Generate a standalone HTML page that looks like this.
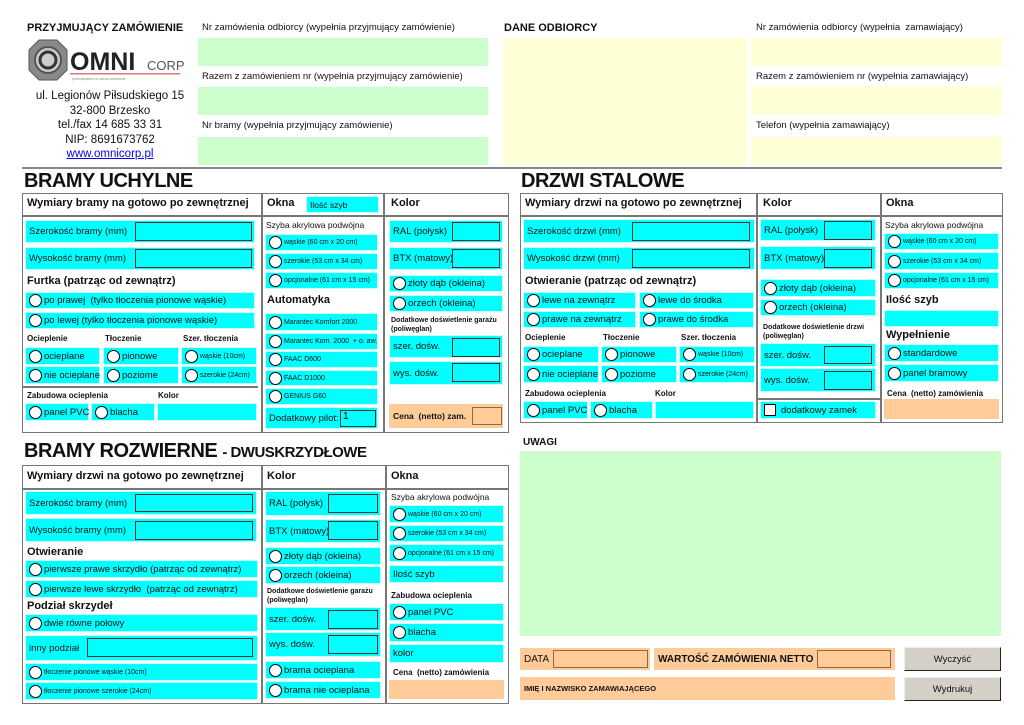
<!DOCTYPE html>
<html><head><meta charset="utf-8">
<style>
*{margin:0;padding:0;box-sizing:border-box}
body{width:1024px;height:725px;background:#fff;position:relative;overflow:hidden;font-family:"Liberation Sans","DejaVu Sans",sans-serif;color:#111}
.a{position:absolute;white-space:nowrap}
.c{position:absolute;background:#00ffff;display:flex;align-items:center;font-size:9.5px;white-space:nowrap;padding-left:3px;border:1px solid #c8ffff}
.c i{display:inline-block;width:13px;height:13px;border:1px solid #000;border-radius:50%;background:#fff;margin-right:2px;flex:none}
.s{font-size:7px}
.g{position:absolute;background:#ccffcc}
.y{position:absolute;background:#ffffd6}
.p{position:absolute;background:#ffcc99;display:flex;align-items:center;font-size:10px;font-weight:bold;padding-left:4px;white-space:nowrap}
.in{position:absolute;border:1.3px solid #333;background:#0ff}
.inp{position:absolute;border:1px solid #8a6a4a;background:#ffcc99}
.b{font-weight:bold}
.h{position:absolute;font-weight:bold;font-size:11px;white-space:nowrap}
.t{position:absolute;font-weight:bold;font-size:20px;letter-spacing:-0.5px;white-space:nowrap}
.box{position:absolute;border:1.5px solid #777}
.vl{position:absolute;width:1.5px;background:#777}
.hl{position:absolute;height:1.5px;background:#777}
.lab{position:absolute;font-size:9.5px;white-space:nowrap}
.sb{position:absolute;font-size:7px;font-weight:bold;line-height:9px}
.btn{position:absolute;background:#d4d0c8;border:1.5px solid #222;border-top-color:#eee;border-left-color:#eee;font-size:9.5px;display:flex;align-items:center;justify-content:center}
</style></head><body>

<!-- HEADER -->
<div class="a b" style="left:27px;top:22px;font-size:11px">PRZYJMUJĄCY ZAMÓWIENIE</div>
<svg class="a" style="left:27px;top:38px" width="166" height="45" viewBox="0 0 166 45">
<polygon points="12,2 30,2 40,12 40,32 30,42 12,42 2,32 2,12" fill="#888" stroke="#555"/>
<circle cx="21" cy="22" r="13" fill="#ccc" stroke="#555" stroke-width="2"/>
<circle cx="21" cy="22" r="8" fill="none" stroke="#333" stroke-width="3"/>
<text x="43" y="32" font-family="Liberation Sans" font-weight="bold" font-size="25" fill="#222">OMNI</text>
<text x="120" y="32" font-family="Liberation Sans" font-size="13" fill="#555">CORP</text>
<rect x="43" y="35" width="110" height="1.5" fill="#d77"/>
<text x="45" y="42" font-size="3.5" fill="#888">profesjonalizm w sztuce tworzenia</text>
</svg>
<div class="a" style="left:20px;top:89px;width:180px;text-align:center;font-size:11.5px;line-height:14.5px;white-space:normal">ul. Legionów Piłsudskiego 15<br>32-800 Brzesko<br>tel./fax 14 685 33 31<br>NIP: 8691673762<br><span style="color:#00e;text-decoration:underline">www.omnicorp.pl</span></div>

<div class="lab" style="left:202px;top:22px">Nr zamówienia odbiorcy (wypełnia przyjmujący zamówienie)</div>
<div class="g" style="left:198px;top:38px;width:290px;height:28px"></div>
<div class="lab" style="left:202px;top:71px">Razem z zamówieniem nr (wypełnia przyjmujący zamówienie)</div>
<div class="g" style="left:198px;top:87px;width:290px;height:28px"></div>
<div class="lab" style="left:202px;top:120px">Nr bramy (wypełnia przyjmujący zamówienie)</div>
<div class="g" style="left:198px;top:137px;width:290px;height:28px"></div>

<div class="a b" style="left:504px;top:22px;font-size:11px">DANE ODBIORCY</div>
<div class="y" style="left:503px;top:38px;width:244px;height:127px"></div>
<div class="lab" style="left:756px;top:22px">Nr zamówienia odbiorcy (wypełnia&nbsp; zamawiający)</div>
<div class="y" style="left:751px;top:38px;width:251px;height:28px"></div>
<div class="lab" style="left:756px;top:71px">Razem z zamówieniem nr (wypełnia zamawiający)</div>
<div class="y" style="left:751px;top:87px;width:251px;height:28px"></div>
<div class="lab" style="left:756px;top:120px">Telefon (wypełnia zamawiający)</div>
<div class="y" style="left:751px;top:137px;width:251px;height:28px"></div>
<div class="hl" style="left:22px;top:167px;width:980px;background:#888"></div>

<!-- BRAMY UCHYLNE -->
<div class="t" style="left:24px;top:170px">BRAMY UCHYLNE</div>
<div class="box" style="left:22px;top:193px;width:487px;height:240px"></div>
<div class="hl" style="left:22px;top:215px;width:487px"></div>
<div class="vl" style="left:261px;top:193px;height:240px"></div>
<div class="vl" style="left:383px;top:193px;height:240px"></div>
<div class="h" style="left:27px;top:197px">Wymiary bramy na gotowo po zewnętrznej</div>
<div class="h" style="left:267px;top:197px">Okna</div>
<div class="c" style="left:306px;top:196px;width:73px;height:17px;font-size:8.5px">Ilość szyb</div>
<div class="h" style="left:391px;top:197px">Kolor</div>

<div class="c" style="left:25px;top:220px;width:230px;height:23px">Szerokość bramy (mm)</div>
<div class="in" style="left:135px;top:222px;width:117px;height:19px"></div>
<div class="c" style="left:25px;top:247px;width:230px;height:23px">Wysokość bramy (mm)</div>
<div class="in" style="left:135px;top:249px;width:117px;height:19px"></div>
<div class="h" style="left:27px;top:275px">Furtka (patrząc od zewnątrz)</div>
<div class="c" style="left:25px;top:292px;width:230px;height:17px"><i></i>po prawej&nbsp; (tylko tłoczenia pionowe wąskie)</div>
<div class="c" style="left:25px;top:312px;width:230px;height:17px"><i></i>po lewej (tylko tłoczenia pionowe wąskie)</div>
<div class="sb" style="left:27px;top:334px;font-size:8px">Ocieplenie</div>
<div class="sb" style="left:105px;top:334px;font-size:8px">Tłoczenie</div>
<div class="sb" style="left:183px;top:334px;font-size:8px">Szer. tłoczenia</div>
<div class="c" style="left:25px;top:347px;width:75px;height:18px"><i></i>ocieplane</div>
<div class="c" style="left:103px;top:347px;width:76px;height:18px"><i></i>pionowe</div>
<div class="c" style="left:181px;top:347px;width:76px;height:18px"><i></i><span class="s">wąskie (10cm)</span></div>
<div class="c" style="left:25px;top:366px;width:75px;height:18px"><i></i>nie ocieplane</div>
<div class="c" style="left:103px;top:366px;width:76px;height:18px"><i></i>poziome</div>
<div class="c" style="left:181px;top:366px;width:76px;height:18px"><i></i><span class="s">szerokie (24cm)</span></div>
<div class="hl" style="left:22px;top:386px;width:236px"></div>
<div class="sb" style="left:27px;top:391px;font-size:8px">Zabudowa ocieplenia</div>
<div class="sb" style="left:158px;top:391px;font-size:8px">Kolor</div>
<div class="c" style="left:25px;top:403px;width:64px;height:18px"><i></i>panel PVC</div>
<div class="c" style="left:91px;top:403px;width:64px;height:18px"><i></i>blacha</div>
<div class="c" style="left:157px;top:403px;width:100px;height:18px"></div>

<div class="lab" style="left:266px;top:220px;font-size:8.5px">Szyba akrylowa podwójna</div>
<div class="c" style="left:265px;top:234px;width:113px;height:17px"><i></i><span class="s">wąskie (60 cm x 20 cm)</span></div>
<div class="c" style="left:265px;top:253px;width:113px;height:17px"><i></i><span class="s">szerokie (53 cm x 34 cm)</span></div>
<div class="c" style="left:265px;top:272px;width:113px;height:17px"><i></i><span class="s">opcjonalne (61 cm x 15 cm)</span></div>
<div class="h" style="left:267px;top:294px">Automatyka</div>
<div class="c" style="left:265px;top:313px;width:113px;height:18px"><i></i><span class="s">Marantec Komfort 2000</span></div>
<div class="c" style="left:265px;top:333px;width:113px;height:17px"><i></i><span class="s">Marantec Kom. 2000&nbsp; + o. aw.</span></div>
<div class="c" style="left:265px;top:351px;width:113px;height:17px"><i></i><span class="s">FAAC D600</span></div>
<div class="c" style="left:265px;top:370px;width:113px;height:16px"><i></i><span class="s">FAAC D1000</span></div>
<div class="c" style="left:265px;top:388px;width:113px;height:17px"><i></i><span class="s">GENIUS G60</span></div>
<div class="c" style="left:265px;top:407px;width:113px;height:22px">Dodatkowy pilot:</div>
<div class="in" style="left:340px;top:410px;width:36px;height:17px;font-size:10px;padding-left:2px">1</div>

<div class="c" style="left:389px;top:220px;width:114px;height:23px">RAL (połysk)</div>
<div class="in" style="left:452px;top:222px;width:48px;height:19px"></div>
<div class="c" style="left:389px;top:247px;width:114px;height:23px">BTX (matowy)</div>
<div class="in" style="left:452px;top:249px;width:48px;height:19px"></div>
<div class="c" style="left:389px;top:275px;width:114px;height:17px"><i></i>złoty dąb (okleina)</div>
<div class="c" style="left:389px;top:295px;width:114px;height:17px"><i></i>orzech (okleina)</div>
<div class="sb" style="left:391px;top:316px">Dodatkowe doświetlenie garażu<br>(poliwęglan)</div>
<div class="c" style="left:389px;top:335px;width:114px;height:23px">szer. dośw.</div>
<div class="in" style="left:452px;top:338px;width:48px;height:19px"></div>
<div class="c" style="left:389px;top:361px;width:114px;height:24px">wys. dośw.</div>
<div class="in" style="left:452px;top:363px;width:48px;height:19px"></div>
<div class="p" style="left:389px;top:404px;width:114px;height:24px;font-size:8.5px">Cena&nbsp; (netto) zam.</div>
<div class="inp" style="left:472px;top:407px;width:30px;height:18px"></div>

<!-- DRZWI STALOWE -->
<div class="t" style="left:521px;top:170px">DRZWI STALOWE</div>
<div class="box" style="left:520px;top:193px;width:483px;height:230px"></div>
<div class="hl" style="left:520px;top:215px;width:483px"></div>
<div class="vl" style="left:756px;top:193px;height:230px"></div>
<div class="vl" style="left:880px;top:193px;height:230px"></div>
<div class="h" style="left:525px;top:197px">Wymiary drzwi na gotowo po zewnętrznej</div>
<div class="h" style="left:763px;top:197px">Kolor</div>
<div class="h" style="left:886px;top:197px">Okna</div>

<div class="c" style="left:523px;top:219px;width:232px;height:24px">Szerokość drzwi (mm)</div>
<div class="in" style="left:632px;top:222px;width:118px;height:19px"></div>
<div class="c" style="left:523px;top:247px;width:232px;height:23px">Wysokość drzwi (mm)</div>
<div class="in" style="left:632px;top:249px;width:118px;height:19px"></div>
<div class="h" style="left:525px;top:275px">Otwieranie (patrząc od zewnątrz)</div>
<div class="c" style="left:523px;top:292px;width:113px;height:17px"><i></i>lewe na zewnątrz</div>
<div class="c" style="left:639px;top:292px;width:115px;height:17px"><i></i>lewe do środka</div>
<div class="c" style="left:523px;top:311px;width:113px;height:17px"><i></i>prawe na zewnątrz</div>
<div class="c" style="left:639px;top:311px;width:115px;height:17px"><i></i>prawe do środka</div>
<div class="sb" style="left:525px;top:333px;font-size:8px">Ocieplenie</div>
<div class="sb" style="left:603px;top:333px;font-size:8px">Tłoczenie</div>
<div class="sb" style="left:681px;top:333px;font-size:8px">Szer. tłoczenia</div>
<div class="c" style="left:523px;top:346px;width:76px;height:17px"><i></i>ocieplane</div>
<div class="c" style="left:601px;top:346px;width:76px;height:17px"><i></i>pionowe</div>
<div class="c" style="left:679px;top:346px;width:76px;height:17px"><i></i><span class="s">wąskie (10cm)</span></div>
<div class="c" style="left:523px;top:365px;width:76px;height:18px"><i></i>nie ocieplane</div>
<div class="c" style="left:601px;top:365px;width:76px;height:18px"><i></i>poziome</div>
<div class="c" style="left:679px;top:365px;width:76px;height:18px"><i></i><span class="s">szerokie (24cm)</span></div>
<div class="sb" style="left:525px;top:389px;font-size:8px">Zabudowa ocieplenia</div>
<div class="sb" style="left:655px;top:389px;font-size:8px">Kolor</div>
<div class="c" style="left:523px;top:401px;width:65px;height:18px"><i></i>panel PVC</div>
<div class="c" style="left:590px;top:401px;width:63px;height:18px"><i></i>blacha</div>
<div class="c" style="left:655px;top:401px;width:99px;height:18px"></div>

<div class="c" style="left:760px;top:219px;width:116px;height:22px">RAL (połysk)</div>
<div class="in" style="left:824px;top:221px;width:48px;height:19px"></div>
<div class="c" style="left:760px;top:246px;width:116px;height:24px">BTX (matowy)</div>
<div class="in" style="left:824px;top:249px;width:48px;height:19px"></div>
<div class="c" style="left:760px;top:279px;width:116px;height:18px"><i></i>złoty dąb (okleina)</div>
<div class="c" style="left:760px;top:299px;width:116px;height:17px"><i></i>orzech (okleina)</div>
<div class="sb" style="left:763px;top:323px">Dodatkowe doświetlenie drzwi<br>(poliwęglan)</div>
<div class="c" style="left:760px;top:343px;width:116px;height:24px">szer. dośw.</div>
<div class="in" style="left:824px;top:346px;width:48px;height:18px"></div>
<div class="c" style="left:760px;top:368px;width:116px;height:24px">wys. dośw.</div>
<div class="in" style="left:824px;top:371px;width:48px;height:19px"></div>
<div class="hl" style="left:756px;top:398px;width:125px"></div>
<div class="c" style="left:760px;top:401px;width:116px;height:18px"><span style="display:inline-block;width:12px;height:12px;background:#fff;border:1px solid #000;margin-right:5px"></span>dodatkowy zamek</div>

<div class="lab" style="left:885px;top:220px;font-size:8.5px">Szyba akrylowa podwójna</div>
<div class="c" style="left:884px;top:233px;width:115px;height:17px"><i></i><span class="s">wąskie (60 cm x 20 cm)</span></div>
<div class="c" style="left:884px;top:252px;width:115px;height:18px"><i></i><span class="s">szerokie (53 cm x 34 cm)</span></div>
<div class="c" style="left:884px;top:272px;width:115px;height:17px"><i></i><span class="s">opcjonalne (61 cm x 15 cm)</span></div>
<div class="h" style="left:886px;top:294px">Ilość szyb</div>
<div class="c" style="left:884px;top:310px;width:115px;height:17px"></div>
<div class="h" style="left:886px;top:329px">Wypełnienie</div>
<div class="c" style="left:884px;top:344px;width:115px;height:18px"><i></i>standardowe</div>
<div class="c" style="left:884px;top:364px;width:115px;height:18px"><i></i>panel bramowy</div>
<div class="sb" style="left:887px;top:389px;font-size:8px">Cena&nbsp; (netto) zamówienia</div>
<div class="p" style="left:884px;top:399px;width:115px;height:20px"></div>

<!-- BRAMY ROZWIERNE -->
<div class="t" style="left:24px;top:440px">BRAMY ROZWIERNE <span style="font-size:15px">- DWUSKRZYDŁOWE</span></div>
<div class="box" style="left:22px;top:465px;width:487px;height:239px"></div>
<div class="hl" style="left:22px;top:488px;width:487px"></div>
<div class="vl" style="left:261px;top:465px;height:239px"></div>
<div class="vl" style="left:385px;top:465px;height:239px"></div>
<div class="h" style="left:27px;top:470px">Wymiary drzwi na gotowo po zewnętrznej</div>
<div class="h" style="left:267px;top:470px">Kolor</div>
<div class="h" style="left:391px;top:470px">Okna</div>

<div class="c" style="left:25px;top:491px;width:232px;height:24px">Szerokość bramy (mm)</div>
<div class="in" style="left:135px;top:494px;width:118px;height:18px"></div>
<div class="c" style="left:25px;top:518px;width:232px;height:24px">Wysokość bramy (mm)</div>
<div class="in" style="left:135px;top:521px;width:118px;height:19px"></div>
<div class="h" style="left:27px;top:546px">Otwieranie</div>
<div class="c" style="left:25px;top:560px;width:233px;height:18px"><i></i>pierwsze prawe skrzydło (patrząc od zewnątrz)</div>
<div class="c" style="left:25px;top:580px;width:233px;height:18px"><i></i>pierwsze lewe skrzydło&nbsp; (patrząc od zewnątrz)</div>
<div class="h" style="left:27px;top:600px">Podział skrzydeł</div>
<div class="c" style="left:25px;top:614px;width:233px;height:18px"><i></i>dwie równe połowy</div>
<div class="c" style="left:25px;top:635px;width:233px;height:26px">inny podział</div>
<div class="in" style="left:87px;top:638px;width:166px;height:19px"></div>
<div class="c" style="left:25px;top:663px;width:233px;height:18px"><i></i><span class="s">tłoczenie pionowe wąskie (10cm)</span></div>
<div class="c" style="left:25px;top:682px;width:233px;height:18px"><i></i><span class="s">tłoczenie pionowe szerokie (24cm)</span></div>

<div class="c" style="left:265px;top:491px;width:116px;height:25px">RAL (połysk)</div>
<div class="in" style="left:328px;top:494px;width:50px;height:19px"></div>
<div class="c" style="left:265px;top:519px;width:116px;height:24px">BTX (matowy)</div>
<div class="in" style="left:328px;top:521px;width:50px;height:19px"></div>
<div class="c" style="left:265px;top:547px;width:116px;height:18px"><i></i>złoty dąb (okleina)</div>
<div class="c" style="left:265px;top:566px;width:116px;height:18px"><i></i>orzech (okleina)</div>
<div class="sb" style="left:267px;top:587px">Dodatkowe doświetlenie garażu<br>(poliwęglan)</div>
<div class="c" style="left:265px;top:607px;width:116px;height:24px">szer. dośw.</div>
<div class="in" style="left:328px;top:610px;width:50px;height:19px"></div>
<div class="c" style="left:265px;top:632px;width:116px;height:25px">wys. dośw.</div>
<div class="in" style="left:328px;top:635px;width:50px;height:19px"></div>
<div class="c" style="left:265px;top:661px;width:116px;height:18px"><i></i>brama ocieplana</div>
<div class="c" style="left:265px;top:681px;width:116px;height:18px"><i></i>brama nie ocieplana</div>

<div class="lab" style="left:391px;top:492px;font-size:8.5px">Szyba akrylowa podwójna</div>
<div class="c" style="left:389px;top:505px;width:115px;height:18px"><i></i><span class="s">wąskie (60 cm x 20 cm)</span></div>
<div class="c" style="left:389px;top:525px;width:115px;height:17px"><i></i><span class="s">szerokie (53 cm x 34 cm)</span></div>
<div class="c" style="left:389px;top:544px;width:115px;height:18px"><i></i><span class="s">opcjonalne (61 cm x 15 cm)</span></div>
<div class="c" style="left:389px;top:565px;width:115px;height:18px">Ilość szyb</div>
<div class="sb" style="left:391px;top:591px;font-size:8px">Zabudowa ocieplenia</div>
<div class="c" style="left:389px;top:603px;width:115px;height:18px"><i></i>panel PVC</div>
<div class="c" style="left:389px;top:623px;width:115px;height:19px"><i></i>blacha</div>
<div class="c" style="left:389px;top:644px;width:115px;height:19px">kolor</div>
<div class="sb" style="left:393px;top:668px;font-size:8px">Cena&nbsp; (netto) zamówienia</div>
<div class="p" style="left:389px;top:680px;width:115px;height:19px"></div>

<!-- UWAGI -->
<div class="a b" style="left:523px;top:437px;font-size:10px">UWAGI</div>
<div class="g" style="left:520px;top:451px;width:481px;height:185px"></div>

<div class="p" style="left:520px;top:648px;width:130px;height:22px;font-weight:normal">DATA</div>
<div class="inp" style="left:553px;top:650px;width:95px;height:18px"></div>
<div class="p" style="left:654px;top:648px;width:241px;height:22px;font-size:10px">WARTOŚĆ ZAMÓWIENIA NETTO</div>
<div class="inp" style="left:817px;top:650px;width:74px;height:18px"></div>
<div class="p" style="left:520px;top:677px;width:375px;height:23px;font-size:7.5px">IMIĘ I NAZWISKO ZAMAWIAJĄCEGO</div>
<div class="btn" style="left:904px;top:647px;width:97px;height:24px">Wyczyść</div>
<div class="btn" style="left:904px;top:677px;width:97px;height:24px">Wydrukuj</div>

</body></html>
